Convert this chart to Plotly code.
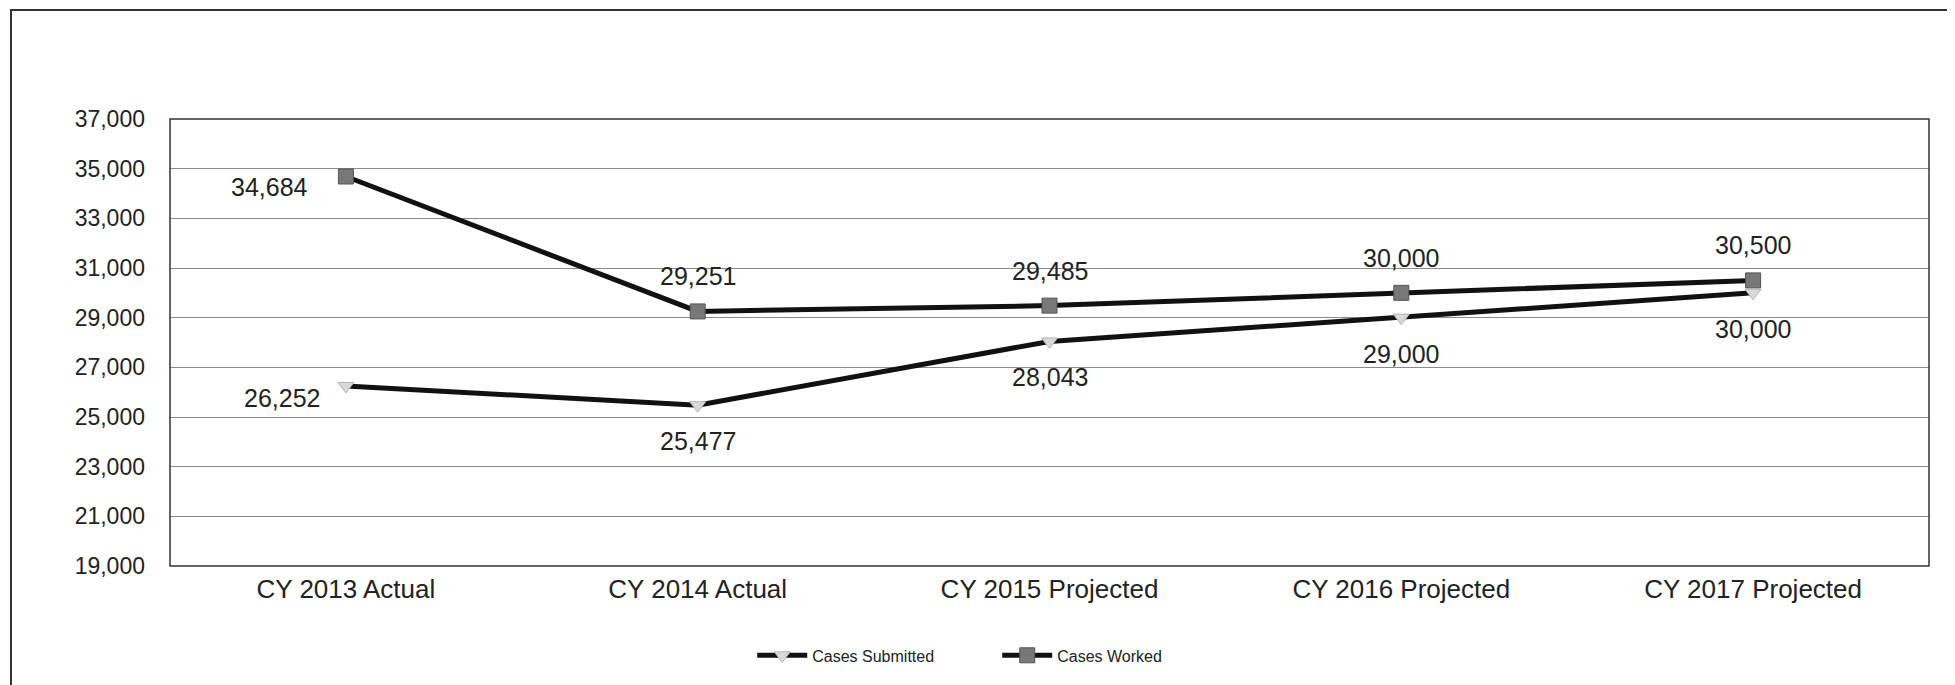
import plotly.graph_objects as go

categories = ["CY 2013 Actual", "CY 2014 Actual", "CY 2015 Projected", "CY 2016 Projected", "CY 2017 Projected"]
cases_submitted = [26252, 25477, 28043, 29000, 30000]
cases_worked = [34684, 29251, 29485, 30000, 30500]
y_ticks = list(range(19000, 37001, 2000))

fig = go.Figure()

fig.add_trace(go.Scatter(
    x=categories, y=cases_submitted, name="Cases Submitted",
    mode="lines+markers",
    line=dict(color="#111111", width=5),
    marker=dict(symbol="triangle-down", size=14, color="#d9d9d9",
                line=dict(color="#b5b5b5", width=1)),
))
fig.add_trace(go.Scatter(
    x=categories, y=cases_worked, name="Cases Worked",
    mode="lines+markers",
    line=dict(color="#111111", width=5),
    marker=dict(symbol="square", size=15, color="#787878",
                line=dict(color="#555555", width=1)),
))

# data labels: first point to the left, the rest above (worked) / below (submitted)
for i, (cat, v) in enumerate(zip(categories, cases_worked)):
    if i == 0:
        fig.add_annotation(x=cat, y=v, text=f"{v:,}", showarrow=False,
                           xanchor="right", xshift=-36, yshift=-10)
    else:
        fig.add_annotation(x=cat, y=v, text=f"{v:,}", showarrow=False, yshift=35)
for i, (cat, v) in enumerate(zip(categories, cases_submitted)):
    if i == 0:
        fig.add_annotation(x=cat, y=v, text=f"{v:,}", showarrow=False,
                           xanchor="right", xshift=-24, yshift=-12)
    else:
        fig.add_annotation(x=cat, y=v, text=f"{v:,}", showarrow=False, yshift=-36)
fig.update_annotations(font=dict(size=25, color="#222222"))

fig.update_xaxes(
    range=[-0.5, 4.5], showgrid=False, ticks="",
    tickfont=dict(size=26, color="#222222"),
    showline=False, ticklabelstandoff=5,
)
fig.update_yaxes(
    range=[19000, 37000], tickvals=y_ticks,
    ticktext=[f"{v:,}" for v in y_ticks],
    tickfont=dict(size=23, color="#222222"),
    showgrid=True, gridcolor="#8a8a8a", gridwidth=1,
    zeroline=False, ticks="", ticklabelstandoff=24,
)

# plot-area border and outer chart border
fig.add_shape(type="rect", xref="paper", yref="paper", x0=0, y0=0, x1=1, y1=1,
              line=dict(color="#333333", width=1.5), layer="above")
fig.add_shape(type="rect", xref="paper", yref="paper", x0=-0.0904, y0=-0.2796, x1=1.0176, y1=1.2438,
              line=dict(color="#333333", width=2))

fig.update_layout(
    width=1955, height=685,
    margin=dict(l=162, r=34, t=111, b=127),
    paper_bgcolor="white", plot_bgcolor="white",
    font=dict(family="Liberation Sans, Arial, sans-serif", color="#222222"),
    showlegend=True,
    legend=dict(orientation="h", x=0.331, xanchor="left", y=-0.2, yanchor="middle",
                font=dict(size=16), itemwidth=50, entrywidth=180),
)

fig.write_html("out.html")
